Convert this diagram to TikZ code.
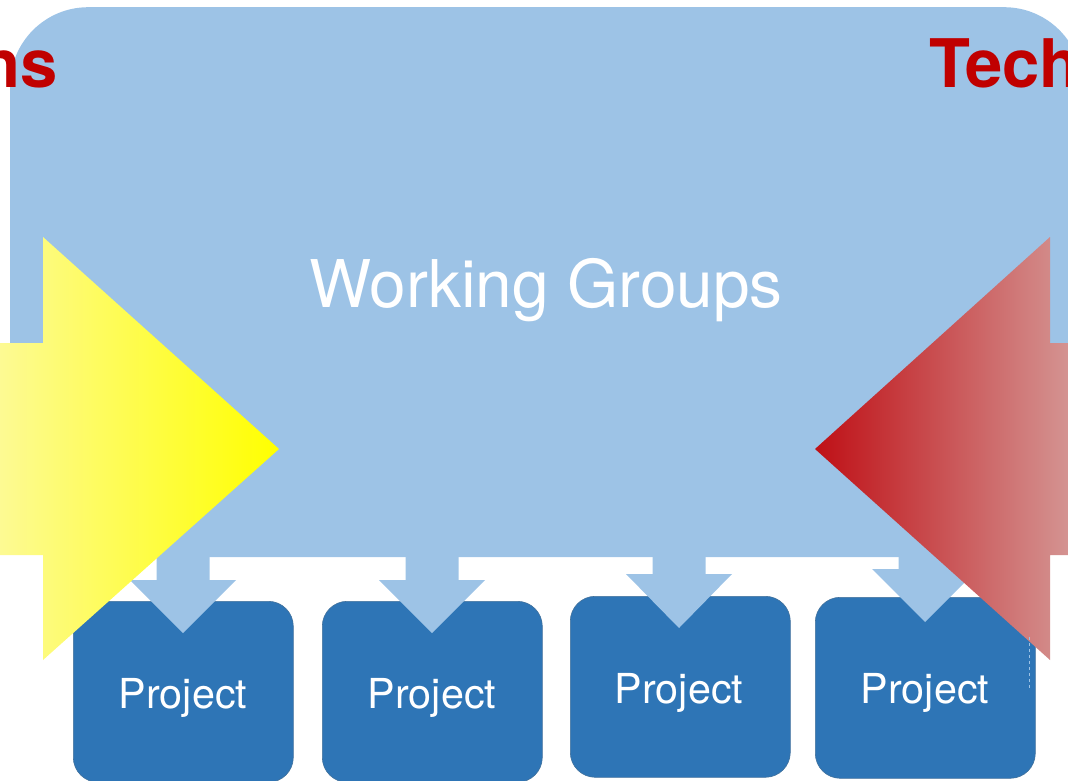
\documentclass[tikz,border=0pt]{standalone}
\usepackage{fontspec}
\setmainfont{TeX Gyre Heros}
\definecolor{wgblue}{HTML}{9DC3E6}
\definecolor{pblue}{HTML}{2E75B6}
\definecolor{pedge}{HTML}{41719C}
\definecolor{txtred}{HTML}{C00000}
\definecolor{ylight}{HTML}{FDFA94}
\definecolor{ystrong}{HTML}{FFFF00}
\definecolor{rdark}{HTML}{BF1016}
\definecolor{rlight}{HTML}{D49492}
\newcommand{\wgdown}[3]{\fill[wgblue] (#1-26.5,550) -- (#1-26.5,#2) -- (#1-53,#2) -- (#1,#3) -- (#1+53,#2) -- (#1+26.5,#2) -- (#1+26.5,550) -- cycle;}
\begin{document}
\begin{tikzpicture}[x=1pt,y=-1pt,
  wgbox/.style={rectangle, fill=wgblue, rounded corners=78pt, inner sep=0pt, minimum width=1072pt, minimum height=550pt},
  projbox/.style={rectangle, fill=pblue, draw=pedge, line width=0.6pt, rounded corners=25pt, inner sep=0pt, minimum width=220pt, minimum height=181pt},
  projtext/.style={text=white, inner sep=0pt, font=\fontsize{41.3}{49}\selectfont},
  wgtext/.style={text=white, inner sep=0pt, font=\fontsize{65.8}{79}\selectfont},
  redtext/.style={text=txtred, inner sep=0pt, font=\fontsize{67}{80}\selectfont\bfseries}]
\useasboundingbox (0,0) rectangle (1068,781);
\clip (0,0) rectangle (1068,781);
% main working groups panel
\node[wgbox, anchor=north west] (wg) at (10,7) {};
% project boxes
\node[projbox, anchor=north west] (p1) at (73,601) {};
\node[projbox, anchor=north west] (p2) at (322,601) {};
\node[projbox, anchor=north west] (p3) at (570,596) {};
\node[projbox, anchor=north west] (p4) at (815,597) {};
% down arrows
\wgdown{183}{580}{633}
\wgdown{432}{580}{633}
\wgdown{679}{574}{628}
\wgdown{925}{569}{622}
% project labels
\node[projtext, anchor=base] (t1) at (183,708) {Project};
\node[projtext, anchor=base] (t2) at (432,708) {Project};
\node[projtext, anchor=base] (t3) at (679,703) {Project};
\node[projtext, anchor=base] (t4) at (925,703) {Project};
% big arrows
\shade[left color=ylight, right color=ystrong] (-2,343) -- (43,343) -- (43,237) -- (279,449) -- (43,660) -- (43,555) -- (-2,555) -- cycle;
\shade[left color=rdark, right color=rlight] (815,449) -- (1050,237) -- (1050,343) -- (1070,343) -- (1070,555) -- (1050,555) -- (1050,660) -- cycle;
\draw[wgblue, dashed, line width=0.6pt] (1029,637) -- (1029,690);
% texts
\node[wgtext, anchor=base] (wgt) at (546,307) {Working Groups};
\node[redtext, anchor=base east] (ln) at (58,88) {ns};
\node[redtext, anchor=base west] (rn) at (929,88) {Tech};
\end{tikzpicture}
\end{document}
